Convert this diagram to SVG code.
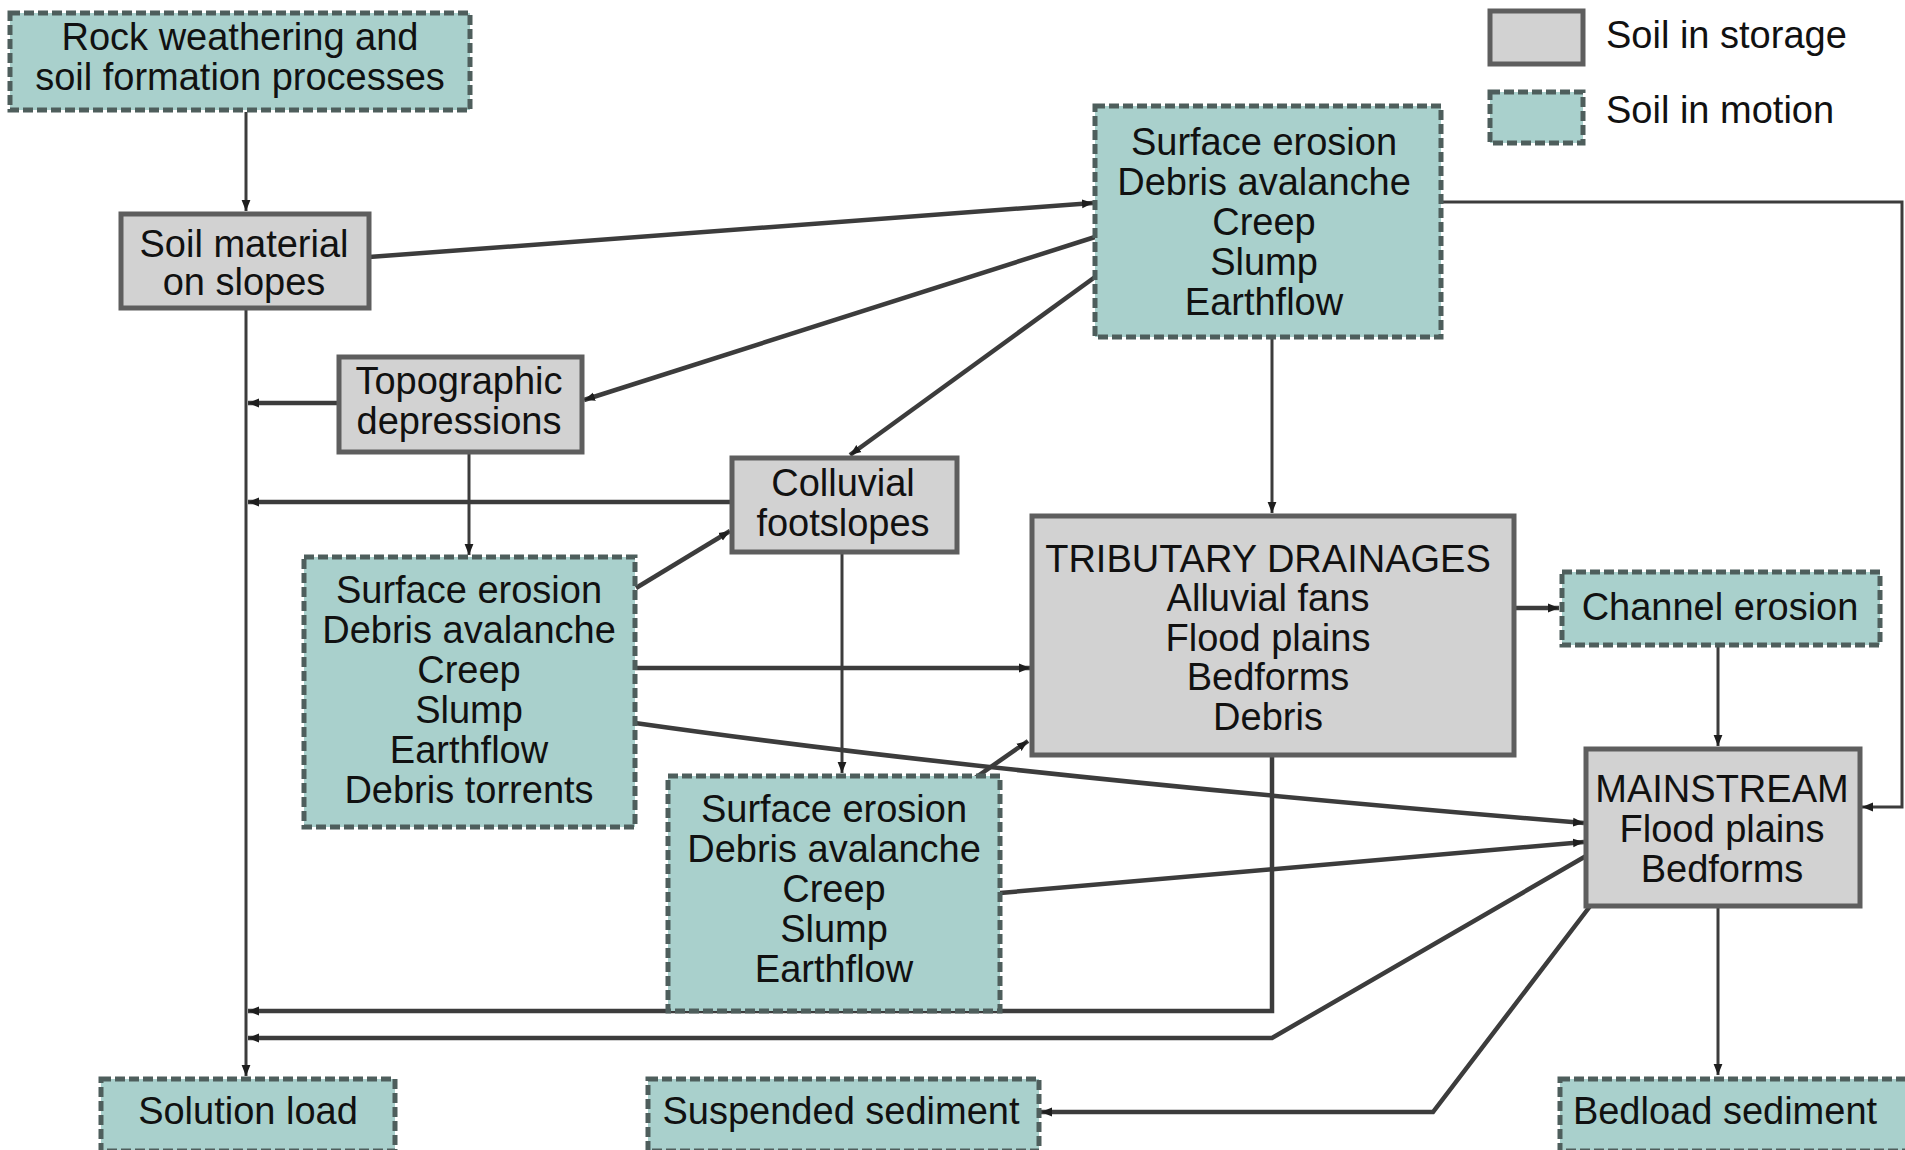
<svg xmlns="http://www.w3.org/2000/svg" width="1905" height="1150" viewBox="0 0 1905 1150">
<defs>
<style>
.store{fill:#d2d2d2;stroke:#5e5e5e;stroke-width:5}
.motion{fill:#a9d0cc;stroke:#4e5e5c;stroke-width:5;stroke-dasharray:10 4}
text{font-family:"Liberation Sans",Arial,Helvetica,sans-serif;font-size:38px;fill:#111;text-anchor:middle}
.leg{text-anchor:start}
.c{fill:none;stroke:#3c3c3c;stroke-width:3}
.t{stroke-width:4.5}
</style>
<marker id="ah" viewBox="0 0 10 10" refX="10" refY="5" markerWidth="11" markerHeight="11" markerUnits="userSpaceOnUse" orient="auto">
<path d="M0,1 L10,5 L0,9 z" fill="#1e1e1e"/>
</marker>
</defs>
<rect width="1905" height="1150" fill="#ffffff"/>

<g id="connectors">
<path class="c" d="M246,112 V211" marker-end="url(#ah)"/>
<path class="c" d="M246,308 V1076" marker-end="url(#ah)"/>
<path class="c t" d="M338,403 H248" marker-end="url(#ah)"/>
<path class="c t" d="M732,502 H248" marker-end="url(#ah)"/>
<path class="c t" d="M369,257 L1093,203" marker-end="url(#ah)"/>
<path class="c t" d="M1095,237 L584,400" marker-end="url(#ah)"/>
<path class="c t" d="M1095,277 L850,455" marker-end="url(#ah)"/>
<path class="c" d="M1272,337 V513" marker-end="url(#ah)"/>
<path class="c" d="M1441,202 H1902 V807 H1862" marker-end="url(#ah)"/>
<path class="c" d="M469,452 V555" marker-end="url(#ah)"/>
<path class="c t" d="M636,588 L730,531" marker-end="url(#ah)"/>
<path class="c" d="M842,552 V773" marker-end="url(#ah)"/>
<path class="c t" d="M635,668 H1030" marker-end="url(#ah)"/>
<path class="c t" d="M635,723 Q1000,775 1584,823" marker-end="url(#ah)"/>
<path class="c t" d="M975,778 L1028,741" marker-end="url(#ah)"/>
<path class="c t" d="M1000,893 L1584,842" marker-end="url(#ah)"/>
<path class="c t" d="M1272,755 V1011 H248" marker-end="url(#ah)"/>
<path class="c t" d="M1586,856 L1272,1038 H248" marker-end="url(#ah)"/>
<path class="c t" d="M1591,905 L1433,1112 H1041" marker-end="url(#ah)"/>
<path class="c" d="M1718,907 V1075" marker-end="url(#ah)"/>
<path class="c" d="M1718,645 V746" marker-end="url(#ah)"/>
<path class="c t" d="M1514,608 H1559" marker-end="url(#ah)"/>
</g>

<g id="legend">
<rect class="store" x="1490" y="11" width="93" height="53"/>
<text class="leg" x="1606" y="48">Soil in storage</text>
<rect class="motion" x="1490" y="92" width="93" height="51"/>
<text class="leg" x="1606" y="123">Soil in motion</text>
</g>

<g id="rock">
<rect class="motion" x="10" y="13" width="460" height="97"/>
<text x="240" y="50">Rock weathering and</text>
<text x="240" y="90">soil formation processes</text>
</g>

<g id="soil-material">
<rect class="store" x="121" y="214" width="248" height="94"/>
<text x="244" y="257">Soil material</text>
<text x="244" y="295">on slopes</text>
</g>

<g id="topographic">
<rect class="store" x="339" y="357" width="243" height="95"/>
<text x="459" y="394">Topographic</text>
<text x="459" y="434">depressions</text>
</g>

<g id="surface-top">
<rect class="motion" x="1095" y="106" width="346" height="231"/>
<text x="1264" y="155">Surface erosion</text>
<text x="1264" y="195">Debris avalanche</text>
<text x="1264" y="235">Creep</text>
<text x="1264" y="275">Slump</text>
<text x="1264" y="315">Earthflow</text>
</g>

<g id="colluvial">
<rect class="store" x="732" y="458" width="225" height="94"/>
<text x="843" y="496">Colluvial</text>
<text x="843" y="536">footslopes</text>
</g>

<g id="surface-left">
<rect class="motion" x="304" y="557" width="331" height="270"/>
<text x="469" y="603">Surface erosion</text>
<text x="469" y="643">Debris avalanche</text>
<text x="469" y="683">Creep</text>
<text x="469" y="723">Slump</text>
<text x="469" y="763">Earthflow</text>
<text x="469" y="803">Debris torrents</text>
</g>

<g id="tributary">
<rect class="store" x="1032" y="516" width="482" height="239"/>
<text x="1268" y="572">TRIBUTARY DRAINAGES</text>
<text x="1268" y="611">Alluvial fans</text>
<text x="1268" y="651">Flood plains</text>
<text x="1268" y="690">Bedforms</text>
<text x="1268" y="730">Debris</text>
</g>

<g id="channel-erosion">
<rect class="motion" x="1562" y="572" width="318" height="73"/>
<text x="1720" y="620">Channel erosion</text>
</g>

<g id="mainstream">
<rect class="store" x="1586" y="749" width="274" height="157"/>
<text x="1722" y="802">MAINSTREAM</text>
<text x="1722" y="842">Flood plains</text>
<text x="1722" y="882">Bedforms</text>
</g>

<g id="surface-bottom">
<rect class="motion" x="668" y="776" width="332" height="235"/>
<text x="834" y="822">Surface erosion</text>
<text x="834" y="862">Debris avalanche</text>
<text x="834" y="902">Creep</text>
<text x="834" y="942">Slump</text>
<text x="834" y="982">Earthflow</text>
</g>

<g id="solution-load">
<rect class="motion" x="101" y="1079" width="294" height="72"/>
<text x="248" y="1124">Solution load</text>
</g>

<g id="suspended-sediment">
<rect class="motion" x="648" y="1079" width="391" height="72"/>
<text x="841" y="1124">Suspended sediment</text>
</g>

<g id="bedload-sediment">
<rect class="motion" x="1560" y="1079" width="350" height="72"/>
<text x="1725" y="1124">Bedload sediment</text>
</g>
</svg>
